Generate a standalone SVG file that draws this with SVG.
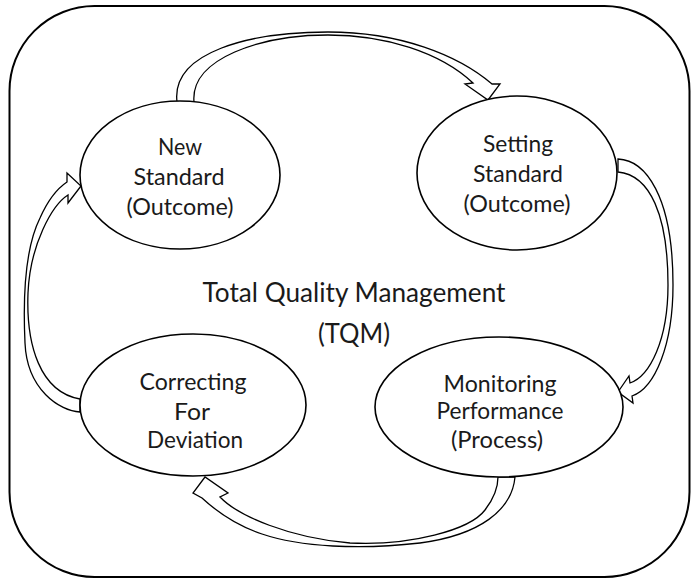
<svg xmlns="http://www.w3.org/2000/svg" width="694" height="582" viewBox="0 0 694 582">
  <style>
    .frame { fill: none; stroke: #000; stroke-width: 2; }
    .node ellipse { fill: #fff; stroke: #000; stroke-width: 1.6; }
    .label { font-family: Lato, "Open Sans", sans-serif; font-size: 24px; fill: #1a1a1a; text-anchor: middle; }
    .title { font-family: Lato, "Open Sans", sans-serif; font-size: 27px; fill: #1a1a1a; text-anchor: middle; }
    .arrow { fill: #fff; stroke: #000; stroke-width: 1.3; stroke-linejoin: miter; }
  </style>

  <!-- outer rounded frame -->
  <rect class="frame" x="9.5" y="6" width="680" height="571" rx="85" ry="85"/>

  <!-- centre caption -->
  <g id="tqm">
    <text class="title" x="354" y="302" textLength="303" lengthAdjust="spacingAndGlyphs">Total Quality Management</text>
    <text class="title" x="354" y="343" textLength="72" lengthAdjust="spacingAndGlyphs">(TQM)</text>
  </g>

  <!-- curved block arrows between the stages -->
  <g id="connectors">
    <!-- New Standard -> Setting Standard -->
    <path class="arrow" d="M177,102 C171,52 250,32 328,32 C400,32 458,55 492,84 L500,84 L488,100 L465,84 L473,83 C440,52 385,35 328,35 C262,35 190,58 194,102 Z"/>
    <!-- Setting Standard -> Monitoring Performance -->
    <path class="arrow" d="M618,159 C645,160 673,195 673,285 C673,345 655,388 632,396 L633,403 L618,392 L629,376 L630,383 C650,376 668,340 668,285 C668,215 650,175 618,172 Z"/>
    <!-- Monitoring Performance -> Correcting For Deviation -->
    <path class="arrow" d="M515,477 C512,510 480,535 420,543 C360,550 300,547 262,534 C235,525 215,510 202,498 L193,493 L205,477 L228,493 L220,497 C238,516 290,538 350,543 C410,546 470,530 485,510 C495,497 498,485 498,477 Z"/>
    <!-- Correcting For Deviation -> New Standard -->
    <path class="arrow" d="M80,412 C60,411 27,390 25,343 C23,300 24,250 40,218 C48,200 58,188 67,182 L67,173 L81,186 L68,203 L68,195 C52,205 30,245 28,293 C26,345 40,392 80,399 Z"/>
  </g>

  <g id="new-standard" class="node">
    <ellipse cx="180" cy="175" rx="100" ry="74"/>
    <text class="label" x="180" y="155" textLength="44" lengthAdjust="spacingAndGlyphs">New</text>
    <text class="label" x="179" y="185" textLength="91" lengthAdjust="spacingAndGlyphs">Standard</text>
    <text class="label" x="180" y="215" textLength="107" lengthAdjust="spacingAndGlyphs">(Outcome)</text>
  </g>

  <g id="setting-standard" class="node">
    <ellipse cx="517" cy="173" rx="100" ry="77"/>
    <text class="label" x="518" y="152" textLength="70" lengthAdjust="spacingAndGlyphs">Setting</text>
    <text class="label" x="518" y="182" textLength="90" lengthAdjust="spacingAndGlyphs">Standard</text>
    <text class="label" x="517" y="212" textLength="107" lengthAdjust="spacingAndGlyphs">(Outcome)</text>
  </g>

  <g id="monitoring-performance" class="node">
    <ellipse cx="499" cy="407" rx="124" ry="70"/>
    <text class="label" x="500" y="392" textLength="113" lengthAdjust="spacingAndGlyphs">Monitoring</text>
    <text class="label" x="500" y="419" textLength="127" lengthAdjust="spacingAndGlyphs">Performance</text>
    <text class="label" x="497" y="448" textLength="92" lengthAdjust="spacingAndGlyphs">(Process)</text>
  </g>

  <g id="correcting-deviation" class="node">
    <ellipse cx="193" cy="405" rx="113" ry="71"/>
    <text class="label" x="193" y="390" textLength="107" lengthAdjust="spacingAndGlyphs">Correcting</text>
    <text class="label" x="192" y="420" textLength="36" lengthAdjust="spacingAndGlyphs">For</text>
    <text class="label" x="195" y="448" textLength="96" lengthAdjust="spacingAndGlyphs">Deviation</text>
  </g>
</svg>
